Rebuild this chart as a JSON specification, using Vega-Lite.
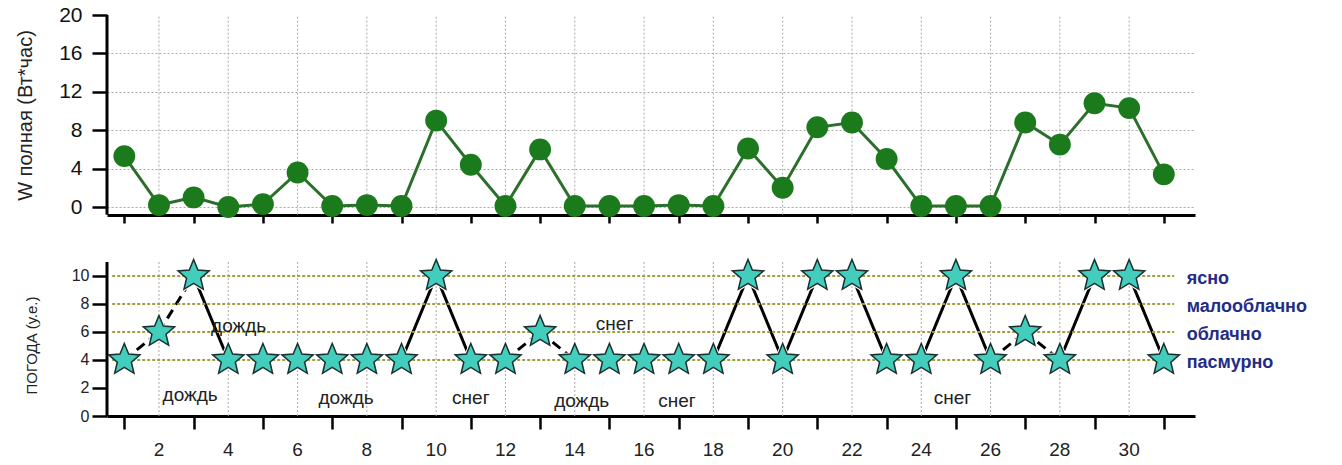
{
  "$schema": "https://vega.github.io/schema/vega-lite/v6.json",
  "background": "white",
  "autosize": {"type": "none"},
  "padding": {"left": 107, "top": 15, "right": 147, "bottom": 49},
  "width": 1088,
  "height": 401,
  "config": {
    "view": {"stroke": null},
    "font": "Liberation Sans",
    "axis": {
      "domainColor": "black", "domainWidth": 3, "tickColor": "black", "tickWidth": 2.5,
      "labelColor": "#222", "labelFont": "Liberation Sans", "titleFont": "Liberation Sans",
      "titleFontWeight": "normal", "titleColor": "#222"
    }
  },
  "datasets": {
    "energy": [
      {"day": 1, "W": 5.3}, {"day": 2, "W": 0.2}, {"day": 3, "W": 1.0}, {"day": 4, "W": 0.0},
      {"day": 5, "W": 0.3}, {"day": 6, "W": 3.6}, {"day": 7, "W": 0.1}, {"day": 8, "W": 0.2},
      {"day": 9, "W": 0.1}, {"day": 10, "W": 9.0}, {"day": 11, "W": 4.4}, {"day": 12, "W": 0.1},
      {"day": 13, "W": 6.0}, {"day": 14, "W": 0.1}, {"day": 15, "W": 0.1}, {"day": 16, "W": 0.1},
      {"day": 17, "W": 0.2}, {"day": 18, "W": 0.1}, {"day": 19, "W": 6.1}, {"day": 20, "W": 2.0},
      {"day": 21, "W": 8.3}, {"day": 22, "W": 8.8}, {"day": 23, "W": 5.0}, {"day": 24, "W": 0.1},
      {"day": 25, "W": 0.1}, {"day": 26, "W": 0.1}, {"day": 27, "W": 8.8}, {"day": 28, "W": 6.5},
      {"day": 29, "W": 10.8}, {"day": 30, "W": 10.3}, {"day": 31, "W": 3.4}
    ],
    "weather": [
      {"day": 1, "lvl": 4}, {"day": 2, "lvl": 6}, {"day": 3, "lvl": 10}, {"day": 4, "lvl": 4},
      {"day": 5, "lvl": 4}, {"day": 6, "lvl": 4}, {"day": 7, "lvl": 4}, {"day": 8, "lvl": 4},
      {"day": 9, "lvl": 4}, {"day": 10, "lvl": 10}, {"day": 11, "lvl": 4}, {"day": 12, "lvl": 4},
      {"day": 13, "lvl": 6}, {"day": 14, "lvl": 4}, {"day": 15, "lvl": 4}, {"day": 16, "lvl": 4},
      {"day": 17, "lvl": 4}, {"day": 18, "lvl": 4}, {"day": 19, "lvl": 10}, {"day": 20, "lvl": 4},
      {"day": 21, "lvl": 10}, {"day": 22, "lvl": 10}, {"day": 23, "lvl": 4}, {"day": 24, "lvl": 4},
      {"day": 25, "lvl": 10}, {"day": 26, "lvl": 4}, {"day": 27, "lvl": 6}, {"day": 28, "lvl": 4},
      {"day": 29, "lvl": 10}, {"day": 30, "lvl": 10}, {"day": 31, "lvl": 4}
    ],
    "levels": [
      {"lvl": 10, "label": "ясно"},
      {"lvl": 8, "label": "малооблачно"},
      {"lvl": 6, "label": "облачно"},
      {"lvl": 4, "label": "пасмурно"}
    ],
    "notes": [
      {"day": 4.3, "lvl": 6.4, "text": "дождь"},
      {"day": 2.9, "lvl": 1.5, "text": "дождь"},
      {"day": 7.4, "lvl": 1.3, "text": "дождь"},
      {"day": 11.0, "lvl": 1.3, "text": "снег"},
      {"day": 14.2, "lvl": 1.1, "text": "дождь"},
      {"day": 16.95, "lvl": 1.1, "text": "снег"},
      {"day": 15.15, "lvl": 6.6, "text": "снег"},
      {"day": 24.9, "lvl": 1.3, "text": "снег"}
    ]
  },
  "layer": [
    {
      "layer": [
        {
          "data": {"name": "energy"},
          "transform": [{"filter": "datum.day % 2 === 0"}],
          "mark": {"type": "rule", "color": "#aaa", "strokeWidth": 1, "strokeDash": [2, 2]},
          "encoding": {
            "x": {"field": "day", "type": "quantitative"},
            "y": {"datum": -0.8, "type": "quantitative"},
            "y2": {"datum": 20}
          }
        },
        {
          "data": {"name": "energy"},
          "mark": {"type": "line", "color": "#2c6e2c", "strokeWidth": 3},
          "encoding": {
            "x": {
              "field": "day", "type": "quantitative",
              "scale": {"domain": [0.5, 31.9], "nice": false, "zero": false},
              "axis": {
                "orient": "bottom", "offset": -201,
                "values": [1,2,3,4,5,6,7,8,9,10,11,12,13,14,15,16,17,18,19,20,21,22,23,24,25,26,27,28,29,30,31],
                "labels": false, "title": null, "grid": false,
                "tickSize": {"condition": {"test": "datum.value % 2 === 0", "value": 14}, "value": 8}
              }
            },
            "y": {
              "field": "W", "type": "quantitative",
              "scale": {"domain": [-21.77, 20], "nice": false, "zero": false},
              "axis": {
                "orient": "left", "domain": false,
                "values": [0, 4, 8, 12, 16, 20],
                "title": "W полная (Вт*час)", "titleFontSize": 20, "titlePadding": 23, "titleY": 100,
                "labelFontSize": 21, "labelPadding": 10, "labelColor": "#111",
                "tickSize": 15,
                "grid": true, "gridColor": "#aaa", "gridDash": [2, 2], "gridWidth": 1,
                "gridOpacity": {"condition": {"test": "datum.value < 20", "value": 1}, "value": 0}
              }
            }
          }
        },
        {
          "data": {"name": "energy"},
          "mark": {"type": "point", "filled": true, "shape": "circle", "size": 480, "color": "#1b7a1b", "opacity": 1},
          "encoding": {
            "x": {"field": "day", "type": "quantitative"},
            "y": {"field": "W", "type": "quantitative"}
          }
        },
        {
          "data": {"values": [{}]},
          "mark": {"type": "rule", "color": "black", "strokeWidth": 3},
          "encoding": {
            "x": {"datum": 0.5, "type": "quantitative"},
            "y": {"datum": -0.8, "type": "quantitative"},
            "y2": {"datum": 20}
          }
        }
      ]
    },
    {
      "layer": [
        {
          "data": {"name": "weather"},
          "transform": [{"filter": "datum.day % 2 === 0"}],
          "mark": {"type": "rule", "color": "#aaa", "strokeWidth": 1, "strokeDash": [2, 2]},
          "encoding": {
            "x": {"field": "day", "type": "quantitative"},
            "y": {"datum": 0, "type": "quantitative"},
            "y2": {"datum": 11}
          }
        },
        {
          "data": {"name": "weather"},
          "transform": [
            {"window": [{"op": "lead", "field": "lvl", "as": "lvl2"}, {"op": "lead", "field": "day", "as": "day2"}], "sort": [{"field": "day"}]},
            {"filter": "datum.lvl2 != null && datum.lvl2 !== datum.lvl"}
          ],
          "mark": {"type": "rule", "color": "black", "strokeWidth": 3},
          "encoding": {
            "x": {"field": "day", "type": "quantitative"},
            "x2": {"field": "day2"},
            "y": {"field": "lvl", "type": "quantitative"},
            "y2": {"field": "lvl2"},
            "strokeDash": {"condition": {"test": "datum.lvl === 6 || datum.lvl2 === 6", "value": [10, 6]}, "value": [1, 0]}
          }
        },
        {
          "data": {"name": "weather"},
          "mark": {"type": "point", "shape": "M0,-1L0.2645,-0.364L0.951,-0.309L0.428,0.139L0.588,0.809L0,0.45L-0.588,0.809L-0.428,0.139L-0.951,-0.309L-0.2645,-0.364Z", "filled": true, "size": 1750, "color": "white", "opacity": 1},
          "encoding": {
            "x": {"field": "day", "type": "quantitative"},
            "y": {"field": "lvl", "type": "quantitative"}
          }
        },
        {
          "data": {"name": "levels"},
          "mark": {"type": "rule", "color": "#a0a040", "strokeWidth": 2, "strokeDash": [3, 2]},
          "encoding": {
            "x": {"datum": 0.65, "type": "quantitative"},
            "x2": {"datum": 31.3},
            "y": {"field": "lvl", "type": "quantitative"}
          }
        },
        {
          "data": {"name": "weather"},
          "mark": {"type": "point", "shape": "M0,-1L0.2645,-0.364L0.951,-0.309L0.428,0.139L0.588,0.809L0,0.45L-0.588,0.809L-0.428,0.139L-0.951,-0.309L-0.2645,-0.364Z", "filled": true, "size": 1080, "fill": "#43cdbd", "stroke": "#1a3030", "strokeWidth": 1.5, "opacity": 1},
          "encoding": {
            "x": {
              "field": "day", "type": "quantitative",
              "scale": {"domain": [0.5, 31.9], "nice": false, "zero": false},
              "axis": {
                "orient": "bottom",
                "values": [1,2,3,4,5,6,7,8,9,10,11,12,13,14,15,16,17,18,19,20,21,22,23,24,25,26,27,28,29,30,31],
                "labels": false, "title": null, "grid": false,
                "tickSize": 13
              }
            },
            "y": {
              "field": "lvl", "type": "quantitative",
              "scale": {"domain": [0, 28.64], "nice": false, "zero": false},
              "axis": {
                "orient": "left", "domain": false,
                "values": [0, 2, 4, 6, 8, 10],
                "title": "ПОГОДА (у.е.)", "titleFontSize": 15, "titlePadding": 32, "titleY": 330,
                "labelFontSize": 16, "labelPadding": 3, "tickSize": 15, "grid": false
              }
            }
          }
        },
        {
          "data": {"name": "weather"},
          "transform": [{"filter": "datum.day % 2 === 0"}],
          "mark": {"type": "text", "align": "center", "baseline": "middle", "fontSize": 19, "color": "#222"},
          "encoding": {
            "x": {"field": "day", "type": "quantitative"},
            "y": {"datum": -2.4, "type": "quantitative"},
            "text": {"field": "day", "type": "quantitative"}
          }
        },
        {
          "data": {"name": "levels"},
          "mark": {"type": "text", "align": "left", "baseline": "middle", "fontSize": 18, "fontWeight": "bold", "color": "#222c86", "dy": 3},
          "encoding": {
            "x": {"datum": 31.66, "type": "quantitative"},
            "y": {"field": "lvl", "type": "quantitative"},
            "text": {"field": "label"}
          }
        },
        {
          "data": {"name": "notes"},
          "mark": {"type": "text", "align": "center", "baseline": "middle", "fontSize": 19, "color": "#222"},
          "encoding": {
            "x": {"field": "day", "type": "quantitative"},
            "y": {"field": "lvl", "type": "quantitative"},
            "text": {"field": "text"}
          }
        },
        {
          "data": {"values": [{}]},
          "mark": {"type": "rule", "color": "black", "strokeWidth": 3},
          "encoding": {
            "x": {"datum": 0.5, "type": "quantitative"},
            "y": {"datum": 0, "type": "quantitative"},
            "y2": {"datum": 11}
          }
        }
      ]
    }
  ],
  "resolve": {"scale": {"x": "independent", "y": "independent"}}
}
